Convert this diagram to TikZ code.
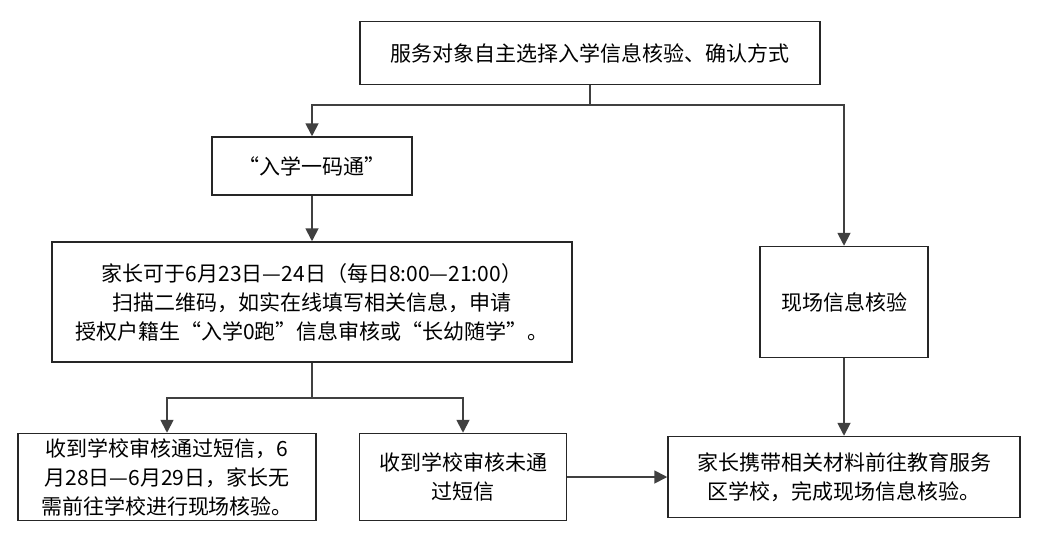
\documentclass[tikz,border=0pt]{standalone}
\usepackage{fontspec}
\setmainfont{Noto Sans CJK SC}
\usetikzlibrary{arrows.meta}
\begin{document}
\begin{tikzpicture}[x=1pt,y=-1pt,
	box/.style={draw=black!85,line width=1.5pt,inner sep=0pt,align=center,font=\fontsize{21}{29}\selectfont},
	flow/.style={draw=black!75,line width=1.8pt,-{Triangle[length=13pt,width=13pt]}},
	link/.style={draw=black!75,line width=1.8pt}]
	\useasboundingbox (0,0) rectangle (1041,544);
	\fill[white] (0,0) rectangle (1041,544);
	% boxes
	\node[box,minimum width=460pt,minimum height=63pt] (choose) at (590,53) {服务对象自主选择入学信息核验、确认方式};
	\node[box,minimum width=200pt,minimum height=58pt] (code) at (312,166) {“入学一码通”};
	\node[box,minimum width=520pt,minimum height=120pt] (apply) at (312,302) {家长可于6月23日—24日（每日8:00—21:00）\\扫描二维码，如实在线填写相关信息，申请\\授权户籍生“入学0跑\symbol{34}信息审核或“长幼随学”。};
	\node[box,minimum width=168pt,minimum height=111pt] (site) at (844,302) {现场信息核验};
	\node[box,minimum width=298pt,minimum height=87pt] (pass) at (167,477) {收到学校审核通过短信，6\\月28日—6月29日，家长无\\需前往学校进行现场核验。};
	\node[box,minimum width=207pt,minimum height=87pt] (fail) at (463,477) {收到学校审核未通\\过短信};
	\node[box,minimum width=352pt,minimum height=81pt] (visit) at (844,477) {家长携带相关材料前往教育服务\\区学校，完成现场信息核验。};
	% connectors
	\coordinate (s1) at (590,105);
	\coordinate (s2) at (312,398);
	\draw[link] (choose.south) -- (s1);
	\draw[flow] (s1) -| (code.north);
	\draw[flow] (s1) -| (site.north);
	\draw[flow] (code) -- (apply);
	\draw[link] (apply.south) -- (s2);
	\draw[flow] (s2) -| (pass.north);
	\draw[flow] (s2) -| (fail.north);
	\draw[flow] (site) -- (visit);
	\draw[flow] (fail) -- (visit);
\end{tikzpicture}
\end{document}
